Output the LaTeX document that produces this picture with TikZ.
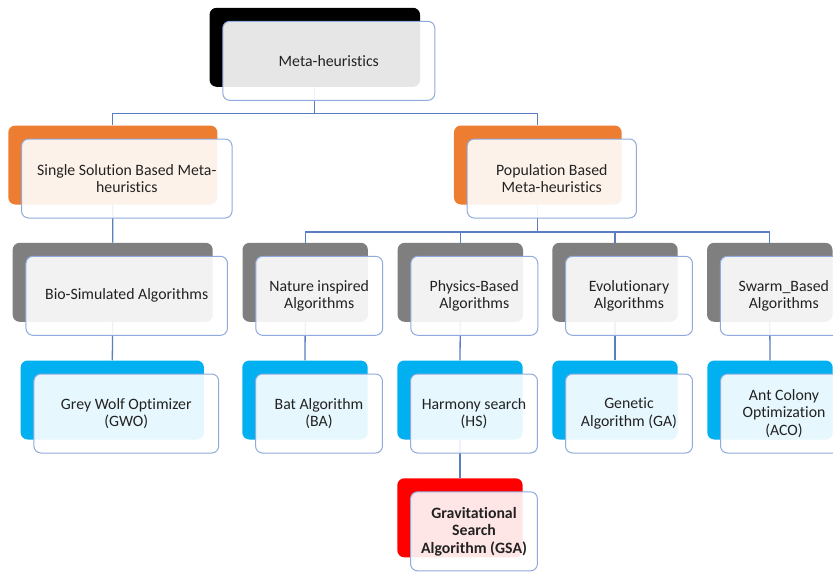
\documentclass[tikz,border=0pt]{standalone}
\usepackage{fontspec}
\setmainfont{Carlito}[Ligatures={NoCommon}]
\pgfdeclarelayer{paper}
\pgfdeclarelayer{bg}
\pgfsetlayers{paper,bg,main}
\definecolor{linkblue}{HTML}{5B7EC2}
\definecolor{rimblue}{HTML}{8FAADC}
\definecolor{backblack}{HTML}{000000}
\definecolor{backorange}{HTML}{ED7D31}
\definecolor{backgray}{HTML}{7F7F7F}
\definecolor{backcyan}{HTML}{00B0F0}
\definecolor{backred}{HTML}{FF0000}
\definecolor{txt}{HTML}{222222}
\tikzset{
  backbox/.style={rectangle, rounded corners=7pt, draw=none, inner sep=0pt, minimum height=79pt},
  frontbox/.style={rectangle, rounded corners=7pt, draw=rimblue, line width=1pt, fill=white, fill opacity=0.9, text opacity=1, inner sep=2pt, minimum height=79pt, align=center, text=txt, font=\fontsize{15.8}{17.5}\selectfont},
  link/.style={draw=linkblue, line width=1.3pt}
}
\newcommand\unitbox[6]{%
  \node[backbox, fill=#2, minimum width=#5pt] (#1b) at (#3,#4) {};
  \node[frontbox, minimum width=#5pt+1.5pt] (#1) at (#3+14,#4+13.5) {#6};
}
\begin{document}
\begin{tikzpicture}[x=1pt,y=-1pt]
\useasboundingbox (0,0) rectangle (833,571);
\clip (0,0) rectangle (833,571);
\begin{pgfonlayer}{paper}
\fill[white] (0,0) rectangle (833,571);
\end{pgfonlayer}
% level 1
\unitbox{meta}{backblack}{314.8}{47.3}{210.5}{Meta-heuristics}
% level 2
\unitbox{single}{backorange}{112.8}{165}{209}{Single Solution Based Meta-\\heuristics}
\unitbox{pop}{backorange}{537.8}{165}{167.7}{Population Based\\Meta-heuristics}
% level 3
\unitbox{bio}{backgray}{112.7}{282.3}{200}{Bio-Simulated Algorithms}
\unitbox{nat}{backgray}{305.2}{282.3}{125.4}{Nature inspired\\Algorithms}
\unitbox{phy}{backgray}{460.3}{282.3}{125.4}{Physics-Based\\Algorithms}
\unitbox{evo}{backgray}{615}{282.3}{125.4}{Evolutionary\\Algorithms}
\unitbox{swa}{backgray}{769.8}{282.3}{125.4}{Swarm\_Based\\Algorithms}
% level 4
\unitbox{gwo}{backcyan}{112.3}{400}{183.3}{Grey Wolf Optimizer\\(GWO)}
\unitbox{bat}{backcyan}{305}{400}{125.4}{Bat Algorithm\\(BA)}
\unitbox{hs}{backcyan}{460}{400}{125.4}{Harmony search\\(HS)}
\unitbox{ga}{backcyan}{615}{400}{125.4}{Genetic\\Algorithm (GA)}
\unitbox{aco}{backcyan}{770}{400}{125.4}{Ant Colony\\Optimization\\(ACO)}
% level 5
\unitbox{gsa}{backred}{460}{517.8}{125.4}{\bfseries Gravitational\\\bfseries Search\\\bfseries Algorithm (GSA)}
% connectors
\coordinate (j1) at (314.8,113.3);
\coordinate (j2) at (537.8,232);
\begin{pgfonlayer}{bg}
\draw[link] (metab.south) -- (j1) -| (singleb.north);
\draw[link] (j1) -| (popb.north);
\draw[link] (singleb.south) -- (biob.north);
\draw[link] (popb.south) -- (j2) -| (natb.north);
\draw[link] (j2) -| (phyb.north);
\draw[link] (j2) -| (evob.north);
\draw[link] (j2) -| (swab.north);
\draw[link] (biob.south) -- (gwob.north);
\draw[link] (natb.south) -- (batb.north);
\draw[link] (phyb.south) -- (hsb.north);
\draw[link] (evob.south) -- (gab.north);
\draw[link] (swab.south) -- (acob.north);
\draw[link] (hsb.south) -- (gsab.north);
\end{pgfonlayer}
\end{tikzpicture}
\end{document}
